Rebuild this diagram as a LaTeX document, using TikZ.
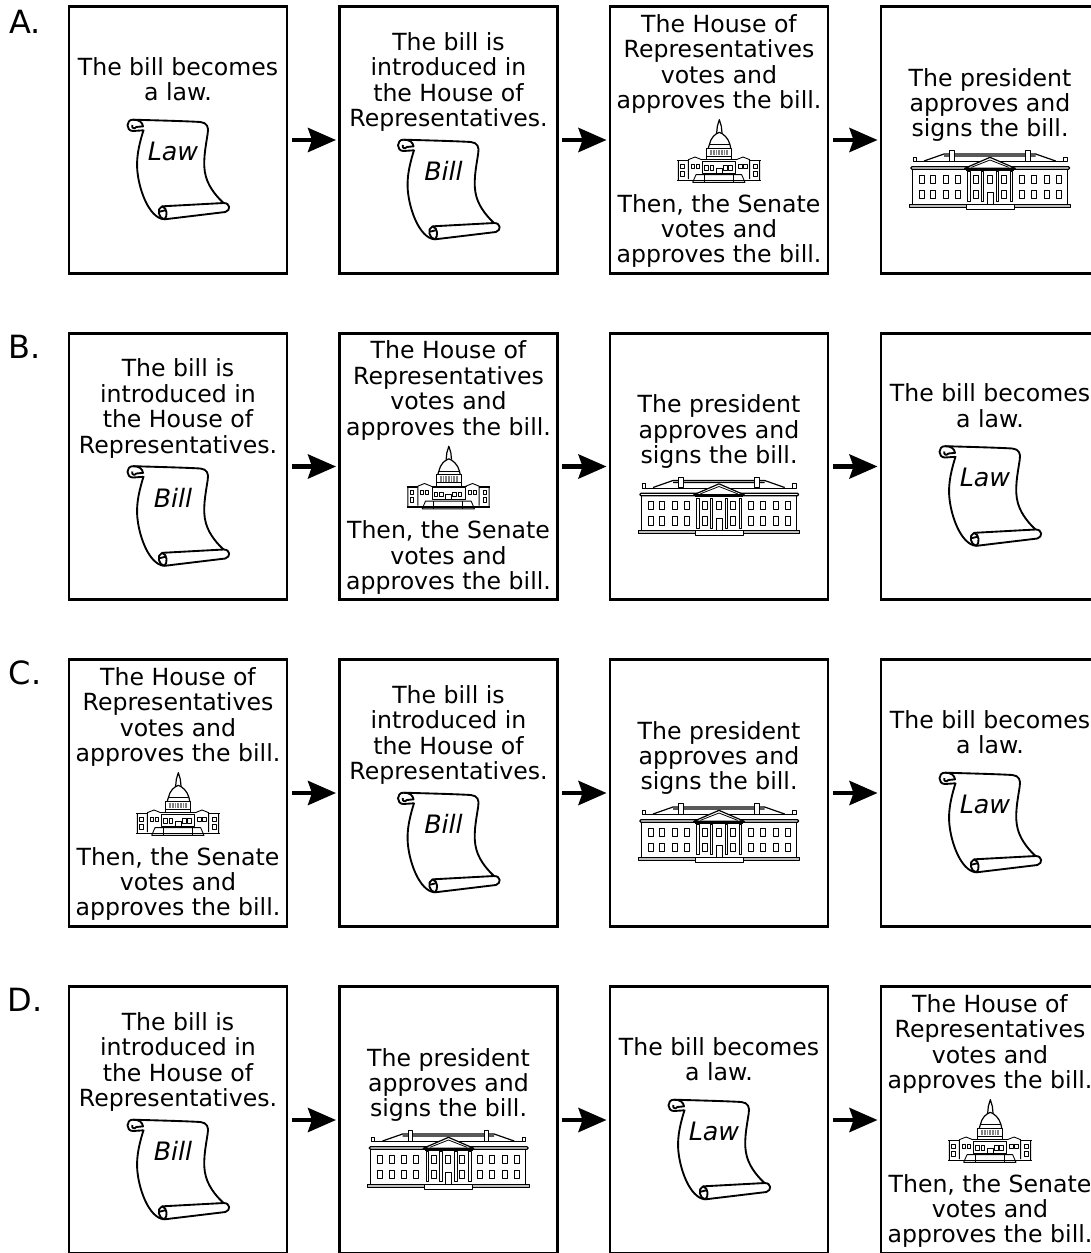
\documentclass[tikz,border=0pt]{standalone}
\usepackage{fontspec}
\setmainfont{DejaVu Sans}
\usetikzlibrary{arrows.meta,calc,positioning}
\tikzset{
  card/.style={rectangle,draw=black,line width=2.2pt,minimum width=163.5pt,minimum height=200pt,inner sep=0pt},
  cardtext/.style={align=center,inner sep=0pt,font=\fontsize{17.7}{19.1}\selectfont},
  rowlabel/.style={inner sep=0pt,font=\fontsize{24}{26}\selectfont},
  scrolltext/.style={inner sep=0pt,font=\fontsize{19}{20}\selectfont\itshape},
  nextstep/.style={-{Stealth[length=21pt,width=18pt,inset=3pt]},line width=3.4pt,shorten <=2.5pt,shorten >=1.5pt},
  pics/scroll/.style={code={
    \begin{scope}[x=.25pt,y=-.25pt,shift={(-350,-500)},line width=1.4pt,line join=round]
    \draw (218,358) .. controls (280,360) and (370,362) .. (420,365) .. controls (440,367) and (446,380) .. (442,400) .. controls (436,440) and (425,490) .. (437,530) .. controls (447,565) and (475,595) .. (490,608);
    \draw (250,388) .. controls (240,420) and (225,470) .. (232,520) .. controls (238,570) and (265,650) .. (310,657);
    \draw (218,358) .. controls (196,358) and (196,392) .. (218,392) -- (248,390);
    \draw (218,358) .. controls (236,358) and (246,365) .. (248,378) -- (228,380) .. controls (222,388) and (213,383) .. (216,374);
    \draw (305,618) -- (490,608) .. controls (510,608) and (512,630) .. (495,635) -- (312,657) .. controls (295,655) and (288,625) .. (305,618);
    \draw (305,618) .. controls (322,622) and (322,650) .. (312,657);
    \draw (298,634) -- (314,630);
    \node (-name) [scrolltext] at (338,452) {#1};
    \end{scope}
  }},
  pics/capitol/.style={code={
    \begin{scope}[x=.25pt,y=-.25pt,shift={(-237,-130)},line width=.65pt,line join=round]
    \draw[line width=1.1pt] (112,212) -- (362,212);
    \draw (158,218) -- (168,195) -- (305,195) -- (315,218) -- cycle;
    \draw (193,195) -- (193,218) (280,195) -- (280,218);
    \draw (188,155) rectangle (287,190);
    \draw (183,150) -- (291,150);
    \draw (228,190) -- (228,175) -- (246,175) -- (246,190);
    \foreach \wx in {194,210,250,266} {\draw (\wx,168) rectangle ++(11,13);}
    \foreach \sx/\ex in {1/0,-1/474} {
      \begin{scope}[xscale=\sx,shift={(-\ex,0)}]
      \draw[line width=1.1pt] (112,152) -- (145,152);
      \draw (115,152) -- (115,212) (145,150) -- (145,208) (145,150) -- (165,142) -- (185,150);
      \draw (122,163) rectangle (133,176) (122,185) rectangle (133,200);
      \draw (153,163) rectangle (163,176) (168,163) rectangle (178,176);
      \end{scope}
    }
    \draw (200,150) -- (200,115) -- (275,115) -- (275,150) (200,140) -- (275,140);
    \fill[gray] (211,120) rectangle (264,136);
    \foreach \wx in {216,224,232,240,248,256} {\fill[white] (\wx,120) rectangle ++(2,16);}
    \draw[line width=.9pt] (205,115) -- (208,105) .. controls (212,85) and (225,72) .. (238,68) .. controls (250,72) and (265,85) .. (270,105) -- (272,115);
    \draw (208,105) -- (270,105);
    \draw[line width=.9pt] (230,70) -- (232,50) -- (238,30) -- (244,50) -- (246,70);
    \end{scope}
  }},
  pics/whitehouse/.style={code={
    \begin{scope}[x=.25pt,y=-.25pt,shift={(-328,-150)},line width=.6pt,line join=round]
    \draw[fill=gray!50] (85,222) rectangle (570,232);
    \draw[fill=white] (257,222) rectangle (400,238);
    \draw[line width=.9pt] (95,118) -- (95,222) (560,118) -- (560,222);
    \draw[line width=.9pt,rounded corners=1pt] (90,110) rectangle (567,118);
    \draw[line width=.9pt] (98,95) -- (557,95);
    \draw[line width=.9pt] (130,93) -- (190,72) -- (465,72) -- (525,93) (190,78) -- (465,78);
    \draw[fill=white] (207,62) rectangle (220,93) (435,62) rectangle (448,93);
    \draw[fill=white] (97,82) rectangle (107,95) (549,82) rectangle (559,95);
    \draw[fill=white,line width=.9pt] (252,115) -- (328,82) -- (404,115) -- cycle;
    \draw (272,112) -- (328,90) -- (384,112);
    \foreach \cx in {265,305,350,392} {\draw[fill=white] (\cx-4,125) rectangle (\cx+4,215);}
    \draw (257,120) -- (400,120);
    \foreach \wx in {115,150,187,223,278,362,415,452,490,527} {
      \draw (\wx,135) rectangle ++(15,25);
      \draw (\wx,181) rectangle ++(15,25);
    }
    \draw (320,135) rectangle ++(15,25);
    \draw (320,222) -- (320,186) -- (337,186) -- (337,222);
    \end{scope}
  }}
}
\newcommand{\Slaw}[3]{
\node (#1) [card] at (#2,#3) {};
\node (#1t) [cardtext] at ($(#1)+(0,-61)$) {The bill becomes\\a law.};
\pic (#1s) at ($(#1)+(-1,27)$) {scroll={Law}};
}
\newcommand{\Sbill}[3]{
\node (#1) [card] at (#2,#3) {};
\node (#1t) [cardtext] at ($(#1)+(0,-58)$) {The bill is\\introduced in\\the House of\\Representatives.};
\pic (#1s) at ($(#1)+(-1,47)$) {scroll={Bill}};
}
\newcommand{\Shouse}[3]{
\node (#1) [card] at (#2,#3) {};
\node (#1t) [cardtext] at ($(#1)+(0,-76)$) {The House of\\Representatives\\votes and\\approves the bill.};
\pic (#1s) at ($(#1)+(0,13)$) {capitol};
\node (#1u) [cardtext] at ($(#1)+(0,91)$) {Then, the Senate\\votes and\\approves the bill.};
}
\newcommand{\Spres}[3]{
\node (#1) [card] at (#2,#3) {};
\node (#1t) [cardtext] at ($(#1)+(0,-35)$) {The president\\approves and\\signs the bill.};
\pic (#1s) at ($(#1)+(0,40)$) {whitehouse};
}
\begin{document}
\begin{tikzpicture}[x=.75pt,y=-.75pt]
\useasboundingbox (0,0) rectangle (1091,1253);
% row A
\node (la) [rowlabel] at (25,22) {A.};
\Slaw{a1}{178}{140}
\Sbill{a2}{448.5}{140}
\Shouse{a3}{719}{140}
\Spres{a4}{990}{140}
\path[nextstep] (a1) edge (a2);
\path[nextstep] (a2) edge (a3);
\path[nextstep] (a3) edge (a4);
% row B
\node (lb) [rowlabel] at (25,347) {B.};
\Sbill{b1}{178}{466.5}
\Shouse{b2}{448.5}{466.5}
\Spres{b3}{719}{466.5}
\Slaw{b4}{990}{466.5}
\path[nextstep] (b1) edge (b2);
\path[nextstep] (b2) edge (b3);
\path[nextstep] (b3) edge (b4);
% row C
\node (lc) [rowlabel] at (25,673) {C.};
\Shouse{c1}{178}{793}
\Sbill{c2}{448.5}{793}
\Spres{c3}{719}{793}
\Slaw{c4}{990}{793}
\path[nextstep] (c1) edge (c2);
\path[nextstep] (c2) edge (c3);
\path[nextstep] (c3) edge (c4);
% row D
\node (ld) [rowlabel] at (25,1000) {D.};
\Sbill{d1}{178}{1120}
\Spres{d2}{448.5}{1120}
\Slaw{d3}{719}{1120}
\Shouse{d4}{990}{1120}
\path[nextstep] (d1) edge (d2);
\path[nextstep] (d2) edge (d3);
\path[nextstep] (d3) edge (d4);
\end{tikzpicture}
\end{document}
